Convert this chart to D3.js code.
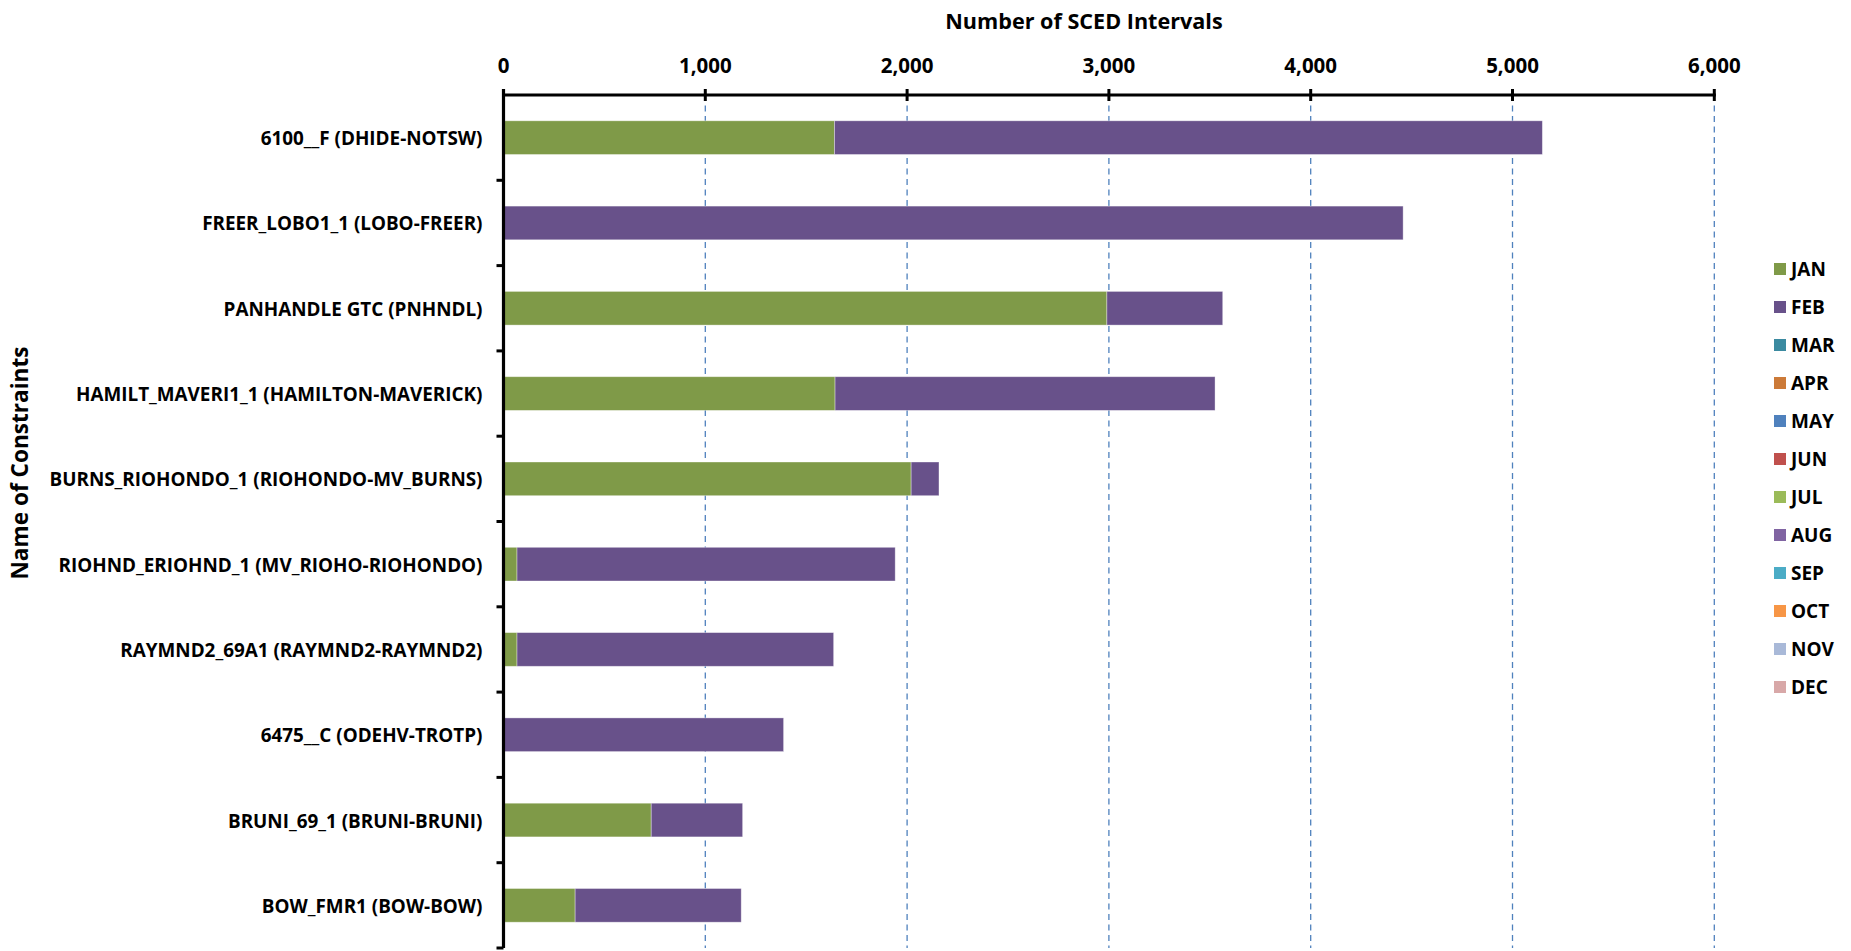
<!DOCTYPE html>
<html>
<head>
<meta charset="utf-8">
<script src="https://cdn.jsdelivr.net/npm/d3@7"></script>
<style>
  html, body { margin: 0; padding: 0; background: #fff; }
  svg { display: block; }
  text { font-family: "Open Sans", "Noto Sans", sans-serif; font-weight: 700; fill: #000; }
</style>
</head>
<body>
<svg id="chart" width="1851" height="951"></svg>
<script>
// ---- data ----
const categories = [
  "6100__F (DHIDE-NOTSW)",
  "FREER_LOBO1_1 (LOBO-FREER)",
  "PANHANDLE GTC (PNHNDL)",
  "HAMILT_MAVERI1_1 (HAMILTON-MAVERICK)",
  "BURNS_RIOHONDO_1 (RIOHONDO-MV_BURNS)",
  "RIOHND_ERIOHND_1 (MV_RIOHO-RIOHONDO)",
  "RAYMND2_69A1 (RAYMND2-RAYMND2)",
  "6475__C (ODEHV-TROTP)",
  "BRUNI_69_1 (BRUNI-BRUNI)",
  "BOW_FMR1 (BOW-BOW)"
];
const months = ["JAN","FEB","MAR","APR","MAY","JUN","JUL","AUG","SEP","OCT","NOV","DEC"];
const janValues = [1640, 0, 2990, 1643, 2020, 67, 67, 0, 732, 355];
const febValues = [3508, 4458, 574, 1883, 138, 1874, 1569, 1388, 453, 823];
const otherMonthValues = [0, 0, 0, 0, 0, 0, 0, 0, 0, 0];
const monthColors = ["#7f9a48","#68518a","#3b8aa0","#cc7a38","#4f81bd","#c0504d",
                     "#9bbb59","#8064a2","#4bacc6","#f79646","#a9b9d8","#d8a8a8"];
const xTickValues = [0, 1000, 2000, 3000, 4000, 5000, 6000];
const xTitle = "Number of SCED Intervals";
const yTitle = "Name of Constraints";

// ---- table built from arrays ----
const seriesData = {JAN: janValues, FEB: febValues};
months.forEach(m => { if (!seriesData[m]) seriesData[m] = otherMonthValues; });
const table = categories.map((c, i) => {
  const row = {name: c};
  months.forEach(m => row[m] = seriesData[m][i]);
  return row;
});

// ---- layout ----
const svg = d3.select("#chart");
const X0 = 503.5, X1 = 1714.3, Y0 = 95, Y1 = 948;

const x = d3.scaleLinear().domain([0, 6000]).range([X0, X1]);
const y = d3.scaleBand().domain(categories).range([Y0, Y1]).padding(0);
const barH = y.bandwidth() * 0.395;
const color = d3.scaleOrdinal().domain(months).range(monthColors);

// gridlines
svg.append("g").selectAll("line")
  .data(xTickValues.filter(v => v > 0))
  .join("line")
  .attr("x1", d => x(d)).attr("x2", d => x(d))
  .attr("y1", Y0).attr("y2", Y1)
  .attr("stroke", "#4f81bd").attr("stroke-width", 1.3)
  .attr("stroke-dasharray", "6,4.5");

// bars
const stacked = d3.stack().keys(months)(table);
svg.append("g").selectAll("g")
  .data(stacked)
  .join("g")
  .attr("fill", d => color(d.key))
  .selectAll("rect")
  .data(d => d.filter(p => p[1] - p[0] > 0))
  .join("rect")
  .attr("x", d => x(d[0]))
  .attr("width", d => x(d[1]) - x(d[0]))
  .attr("y", d => y(d.data.name) + (y.bandwidth() - barH) / 2)
  .attr("height", barH)
  .attr("stroke", "#ffffff").attr("stroke-opacity", 0.45).attr("stroke-width", 0.8);

// x axis (top)
const xAxis = svg.append("g");
xAxis.append("line").attr("x1", X0 - 1.5).attr("x2", X1 + 1.5).attr("y1", Y0).attr("y2", Y0)
  .attr("stroke", "#000").attr("stroke-width", 3);
xAxis.selectAll("line.tick").data(xTickValues).join("line").attr("class", "tick")
  .attr("x1", d => x(d)).attr("x2", d => x(d))
  .attr("y1", Y0 - 6).attr("y2", Y0 + 6)
  .attr("stroke", "#000").attr("stroke-width", 3);
xAxis.selectAll("text").data(xTickValues).join("text")
  .attr("x", d => x(d)).attr("y", 65)
  .attr("text-anchor", "middle").attr("dominant-baseline", "central")
  .style("font-size", "20.5px")
  .text(d3.format(","));

// y axis
const yAxis = svg.append("g");
yAxis.append("line").attr("x1", X0).attr("x2", X0).attr("y1", Y0 - 6).attr("y2", Y1)
  .attr("stroke", "#000").attr("stroke-width", 3.2);
const boundaries = categories.map(c => y(c)).concat([Y1]);
yAxis.selectAll("line.tick").data(boundaries.slice(1)).join("line").attr("class", "tick")
  .attr("x1", X0 - 7).attr("x2", X0)
  .attr("y1", d => d).attr("y2", d => d)
  .attr("stroke", "#000").attr("stroke-width", 3);
const labels = yAxis.selectAll("text").data(categories).join("text")
  .attr("x", X0 - 21).attr("y", d => y(d) + y.bandwidth() / 2)
  .attr("text-anchor", "end").attr("dominant-baseline", "central")
  .style("font-size", "19.2px")
  .text(d => d);
// fit the widest label to the reference width
const targetW = 433;
let maxW = 0;
labels.each(function() { maxW = Math.max(maxW, this.getComputedTextLength()); });
if (maxW > targetW) {
  const k = targetW / maxW;
  labels.each(function() {
    d3.select(this).attr("textLength", this.getComputedTextLength() * k)
      .attr("lengthAdjust", "spacingAndGlyphs");
  });
}

// titles
svg.append("text").attr("x", 1084).attr("y", 20)
  .attr("text-anchor", "middle").attr("dominant-baseline", "central")
  .style("font-size", "21.6px").text(xTitle);
svg.append("text").attr("transform", "translate(19,463) rotate(-90)")
  .attr("text-anchor", "middle").attr("dominant-baseline", "central")
  .style("font-size", "22.6px").text(yTitle);

// legend
const legend = svg.append("g");
const lg = legend.selectAll("g").data(months).join("g")
  .attr("transform", (d, i) => `translate(1774, ${269 + i * 38})`);
lg.append("rect").attr("x", 0).attr("y", -6).attr("width", 12).attr("height", 12)
  .attr("fill", d => color(d));
lg.append("text").attr("x", 17).attr("y", 0).attr("dominant-baseline", "central")
  .style("font-size", "19px").text(d => d);
</script>
</body>
</html>
